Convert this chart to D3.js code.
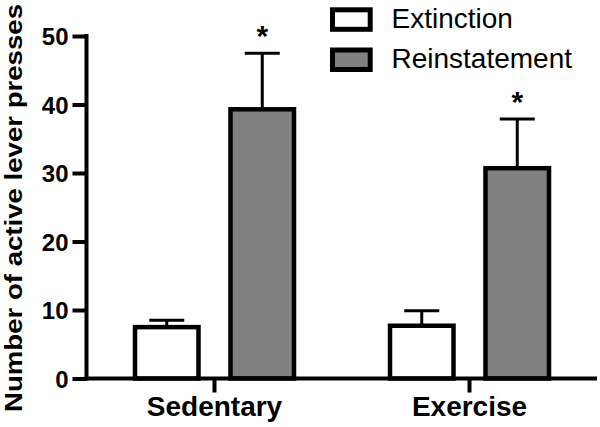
<!DOCTYPE html>
<html><head><meta charset="utf-8">
<script src="https://cdn.jsdelivr.net/npm/d3@7"></script>
<style>body{margin:0;background:#fff}svg{display:block}text{font-family:"Liberation Sans",Arial,sans-serif}</style>
</head><body><svg id="c" width="600" height="427"></svg>
<script>
const categories = ["Sedentary", "Exercise"];
const series = ["Extinction", "Reinstatement"];
const extinction = [7.5, 7.7];
const extinctionSEM = [1.0, 2.2];
const reinstatement = [39.3, 30.7];
const reinstatementSEM = [8.2, 7.2];
const significant = [false, true]; // asterisk on reinstatement bars
const yTicks = [0, 10, 20, 30, 40, 50];
const yLabel = "Number of active lever presses";
const fills = ["#ffffff", "#808080"];

const data = categories.map((c, i) => ({
  cat: c,
  vals: [
    {s: series[0], v: extinction[i], e: extinctionSEM[i], star: significant[0]},
    {s: series[1], v: reinstatement[i], e: reinstatementSEM[i], star: significant[1]}
  ]
}));

const svg = d3.select("#c");
const x0 = d3.scaleBand().domain(categories).range([87, 597]).paddingInner(0).paddingOuter(0);
const x1 = d3.scaleBand().domain(series).range([0, x0.bandwidth()]).paddingInner(0.288).paddingOuter(0.479);
const y = d3.scaleLinear().domain([0, 50]).range([378.5, 36]);
const color = d3.scaleOrdinal().domain(series).range(fills);
const sw = 4.5;

const g = svg.selectAll("g.grp").data(data).join("g").attr("class", "grp")
  .attr("transform", d => `translate(${x0(d.cat)},0)`);

g.selectAll("g.err").data(d => d.vals).join("g").attr("class", "err").each(function(d) {
  const cx = x1(d.s) + x1.bandwidth() / 2;
  const sel = d3.select(this);
  sel.append("line").attr("x1", cx).attr("x2", cx).attr("y1", y(d.v)).attr("y2", y(d.v + d.e))
    .attr("stroke", "#000").attr("stroke-width", 3);
  sel.append("line").attr("x1", cx - 17.5).attr("x2", cx + 17.5).attr("y1", y(d.v + d.e)).attr("y2", y(d.v + d.e))
    .attr("stroke", "#000").attr("stroke-width", 3);
  if (d.star) {
    sel.append("text").attr("x", cx).attr("y", y(d.v + d.e) - 7).attr("text-anchor", "middle")
      .attr("font-size", 30).attr("font-weight", "bold").text("*");
  }
});

g.selectAll("rect").data(d => d.vals).join("rect")
  .attr("x", d => x1(d.s) + sw / 2)
  .attr("width", x1.bandwidth() - sw)
  .attr("y", d => y(d.v))
  .attr("height", d => y(0) - y(d.v))
  .attr("fill", d => color(d.s))
  .attr("stroke", "#000").attr("stroke-width", sw);

const yAxis = d3.axisLeft(y).tickValues(yTicks).tickSize(14).tickPadding(4).tickFormat(d3.format("d"));
const ya = svg.append("g").attr("transform", "translate(86.5,0)").call(yAxis);
ya.select(".domain").attr("stroke-width", 4).attr("d", `M0,${y(50) - 2}V${y(0) + 2}`);
ya.selectAll(".tick line").attr("stroke-width", 4);
ya.selectAll(".tick text").attr("font-size", 24).attr("font-weight", "bold").attr("fill", "#000")
  .attr("font-family", "Liberation Sans, Arial, sans-serif").attr("dy", "0.36em");

const xAxis = d3.axisBottom(x0).tickSize(14).tickPadding(8);
const xa = svg.append("g").attr("transform", `translate(0,${y(0)})`).call(xAxis);
xa.select(".domain").attr("stroke-width", 4).attr("d", "M84.5,0H597");
xa.selectAll(".tick line").attr("stroke-width", 4);
xa.selectAll(".tick text").attr("font-size", 28).attr("font-weight", "bold").attr("fill", "#000")
  .attr("font-family", "Liberation Sans, Arial, sans-serif").attr("dy", "0.71em").attr("y", 18);

svg.append("text").attr("transform", "translate(22,412) rotate(-90) scale(1,0.86)")
  .attr("font-size", 27.6).attr("font-weight", "bold").attr("text-anchor", "start").text(yLabel);

const lg = svg.selectAll("g.leg").data(series).join("g").attr("class", "leg")
  .attr("transform", (d, i) => `translate(332.5,${9.8 + i * 40.2})`);
lg.append("rect").attr("width", 37.7).attr("height", 19.5).attr("fill", d => color(d))
  .attr("stroke", "#000").attr("stroke-width", 5);
lg.append("text").attr("x", 59).attr("y", 18.4).attr("font-size", 28).text(d => d);
</script></body></html>
